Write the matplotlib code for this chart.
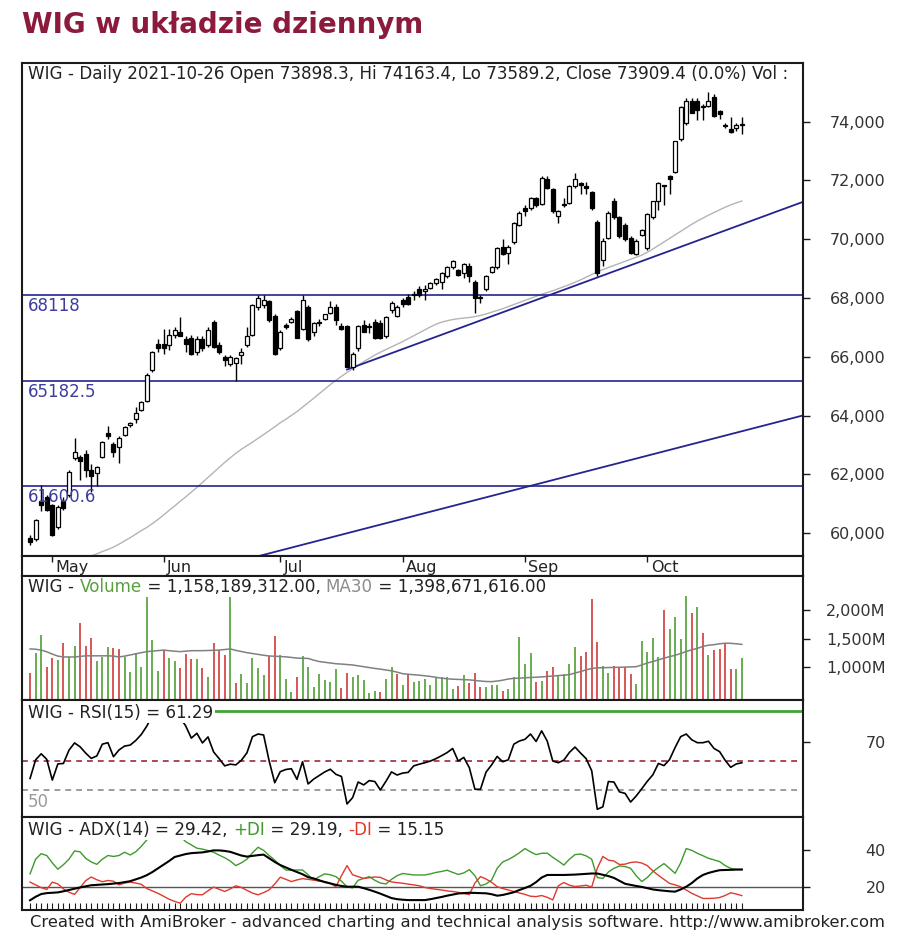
import numpy as np
import pandas as pd
import matplotlib
matplotlib.use('Agg')
import matplotlib.pyplot as plt
from matplotlib import transforms
from matplotlib.patches import Rectangle

plt.rcParams['font.family'] = ['DejaVu Sans']

# ---------------- data ----------------
holidays = ['2021-05-03', '2021-06-03']
dates = pd.bdate_range('2021-04-27', '2021-10-26')
dates = dates[~dates.isin(pd.to_datetime(holidays))]

opens = [59850,59800,61100,61250,60950,60200,61100,61300,62550,62600,
62700,62150,62050,62600,63400,63050,62950,63350,63700,63900,
64200,64500,65550,66450,66450,66400,66750,66850,66600,66650,
66150,66600,66400,67200,66400,66000,65750,65800,66050,66400,
66750,67700,67750,67900,67400,66300,67100,67200,67550,66950,
67700,66850,67200,67300,67500,67700,67050,67050,65650,66300,
67100,67050,67200,67150,66700,67600,67400,67950,68050,68100,
68300,68250,68350,68500,68550,68750,69050,68950,68850,69100,
68550,68050,68300,68900,69050,69750,69550,69900,70500,71050,
71050,71400,71200,72050,71700,70800,71200,71250,71800,71900,
71800,71600,70600,69300,70050,71300,70750,70500,70050,69500,
70150,69700,70750,71300,71850,72150,72300,73400,73950,74700,
74700,74550,74550,74850,74350,73900,73750,73800,73898.3]

highs = [59950,60500,61650,61300,61000,60950,61250,62150,63250,62650,
62850,62350,62300,63150,63650,63100,63300,63650,63800,64300,
64500,65450,66200,66600,66950,66950,67000,67350,66700,66750,
66700,66700,67000,67250,66500,66050,66050,66000,66300,67000,
67800,68100,68100,67950,67450,66900,67150,67350,67600,68100,
67750,67200,67300,67450,67900,67800,67150,67100,66150,67100,
67250,67150,67300,67250,67400,67900,67750,68000,68150,68250,
68400,68450,68550,68700,68900,69100,69300,69000,69200,69200,
68600,68100,68800,69100,69750,70000,69800,70600,70950,71150,
71450,71450,72150,72150,71750,71000,71400,71850,72250,71950,
71950,71650,70650,70050,70950,71400,70800,70550,70100,70000,
70350,70900,71300,71950,71850,72200,73350,74550,74800,74800,
74800,74600,75000,74950,74400,73950,74150,73950,74163.4]

lows = [59600,59750,60750,60750,59900,60150,60800,61250,62500,61800,
61900,61400,61600,62550,63200,62600,62400,63300,63600,63750,
64150,64450,65500,66150,66100,66250,66650,66700,66150,66050,
66050,66200,66350,66300,66100,65700,65700,65180,65750,66350,
66700,67600,67650,67200,66050,66250,66950,67150,66650,66900,
66550,66700,67050,67250,67450,67100,66900,65650,65550,66200,
66850,66800,66600,66600,66650,67500,67350,67700,67750,67950,
68050,67950,68300,68450,68300,68700,69000,68750,68700,68550,
67500,67850,68250,68850,69000,69450,69150,69850,70450,70800,
71000,71100,71150,71700,70900,70550,71100,71200,71750,71550,
71550,71000,68750,69100,70000,70700,70050,69950,69500,69450,
70100,69650,70700,71000,71150,71550,72250,73350,73900,74300,
74050,74050,74500,74150,74100,73800,73600,73700,73589.2]

closes = [59700,60450,60950,60800,59950,60900,60850,62100,62750,62450,
62150,61950,62250,63100,63300,62750,63250,63600,63750,64100,
64450,65400,66150,66300,66300,66750,66900,66700,66450,66100,
66600,66300,66900,66350,66150,65900,66000,65950,66150,66700,
67750,68000,67950,67250,66100,66850,67000,67300,66650,67950,
66600,67150,67150,67450,67700,67250,66950,65650,66100,67050,
66850,67000,66650,66650,67350,67850,67700,67800,67800,68150,
68100,68300,68500,68650,68850,69050,69250,68800,69150,68750,
68000,68000,68750,69050,69700,69500,69750,70550,70900,70950,
71400,71150,72100,71750,70950,70950,71150,71800,72050,71850,
71750,71050,68850,69950,70900,70750,70100,70000,69550,69950,
70300,70850,71300,71900,71800,72050,73350,74500,74700,74300,
74400,74500,74700,74200,74250,73850,73650,73890,73909.4]

price_ma = [np.nan]*10 + [59160,59230,59300,59380,59450,59530,59630,59740,59850,59970,
60090,60200,60330,60470,60620,60780,60930,61090,61240,61400,
61560,61730,61900,62070,62240,62410,62570,62720,62860,62980,
63100,63230,63360,63490,63620,63760,63880,64010,64140,64290,
64440,64590,64750,64900,65060,65200,65340,65470,65600,65720,
65840,65950,66060,66160,66250,66340,66430,66520,66620,66720,
66820,66920,67020,67110,67180,67230,67270,67300,67320,67340,
67370,67410,67460,67520,67580,67640,67710,67780,67850,67920,
67990,68060,68130,68190,68250,68320,68390,68460,68540,68620,
68710,68800,68890,68970,69040,69110,69180,69250,69320,69390,
69460,69560,69670,69790,69910,70030,70150,70270,70390,70510,
70620,70720,70820,70910,71000,71090,71170,71240,71300]

levels = [68118, 65182.5, 61600.6]
level_labels = ['68118', '65182.5', '61600.6']
trend_upper = ([57, 102], [65570, 68700])   # (bar index, value) anchors
trend_lower = ([41, 129], [59220, 63520])

volume_m = [906,1255,1564,1000,1157,1127,1419,1174,1372,1778,
1372,1517,1115,1174,1349,1342,1314,1174,918,1255,
1010,2244,1476,940,1302,1157,1115,983,1232,1140,
1140,983,826,1419,1302,1215,2244,721,883,721,
1157,983,866,1197,1546,1215,790,574,836,1197,
1000,651,883,778,748,965,633,906,836,866,
778,546,592,574,790,1000,883,691,883,748,
766,790,691,808,826,826,625,668,857,731,
906,651,651,691,691,592,616,836,1534,1058,
1244,748,766,940,1010,848,883,1058,1349,1197,
1273,2187,1447,1023,906,1023,1000,1000,883,709,
1464,1273,1506,1174,2000,1663,1873,1489,2244,1953,
2047,1604,1215,1302,1314,1407,965,965,1158]

volume_dir = ("duudduduud" "dduuudduuu" "uuuuduuddd" "ududdduduu" "uuudduuudu"
              "uuuuuudduu" "uuuduududu" "uuuuuuudud" "dduuuduuuu" "ududduuuud"
              "ddduuddddu" "uuuuduuuud" "ududddduu")

volume_ma30 = [1320,1315,1300,1270,1230,1195,1180,1180,1180,1190,
1200,1200,1200,1200,1200,1195,1180,1195,1215,1235,
1255,1273,1282,1292,1300,1290,1280,1273,1282,1290,
1290,1290,1293,1296,1300,1310,1320,1295,1275,1255,
1240,1225,1210,1197,1193,1188,1182,1172,1160,1157,
1155,1125,1100,1088,1075,1062,1056,1048,1040,1025,
1010,995,980,968,952,938,915,888,878,870,
862,852,840,825,810,800,792,788,785,780,
770,760,752,749,760,775,795,808,810,818,
822,826,832,840,848,855,862,872,900,925,
955,980,990,993,996,998,1000,1003,1006,1010,
1040,1075,1100,1130,1160,1185,1210,1240,1275,1305,
1330,1365,1385,1395,1410,1420,1418,1410,1399]

rsi = [54.8,62.5,65.0,62.7,54.1,60.8,61.0,66.5,69.5,67.9,
65.3,63.1,64.1,69.0,69.6,63.8,66.6,68.2,68.6,70.5,
73.0,76.5,81.0,83.0,82.0,84.0,83.0,80.0,76.5,71.5,
73.5,69.5,72.0,65.8,63.0,60.0,60.7,60.4,62.3,65.4,
72.1,73.2,72.8,62.0,53.0,57.6,58.5,58.8,54.4,61.7,
52.5,54.5,56.0,57.5,58.6,56.5,55.6,44.2,46.8,53.3,
52.1,53.9,53.5,50.0,53.6,57.5,56.2,57.0,57.3,60.0,
60.7,61.3,62.0,63.0,64.2,65.5,67.2,62.0,63.5,59.2,
50.3,50.3,57.4,60.4,63.9,61.7,62.5,69.0,70.3,71.0,
73.2,70.1,74.5,70.3,62.0,61.3,62.4,65.6,67.8,65.3,
63.0,58.0,42.0,43.0,53.5,53.3,49.2,48.6,45.0,47.5,
50.5,53.6,56.3,61.0,60.1,62.6,67.6,72.1,73.2,70.8,
69.6,69.6,70.2,67.2,65.9,62.3,59.4,60.8,61.29]
rsi_levels = [82.8, 62.0, 50.0]

adx = [12.6,14.5,16.0,16.5,16.7,16.9,17.5,18.2,18.9,19.6,
20.2,20.8,21.0,21.2,21.4,21.7,22.0,22.5,23.0,24.0,
25.0,26.3,28.0,30.0,32.0,34.0,36.2,37.0,37.8,38.3,
38.5,38.7,39.2,39.8,39.8,39.5,39.0,38.0,37.0,36.4,
36.8,37.2,37.5,35.5,33.5,31.8,30.5,29.2,28.0,26.8,
25.2,24.5,23.5,22.5,21.8,21.0,20.4,20.0,20.0,20.0,
19.2,18.3,17.3,16.2,15.0,13.8,13.2,12.9,12.7,12.7,
12.7,12.7,13.2,13.8,14.4,15.1,15.7,16.3,16.5,16.7,
16.6,16.5,16.4,15.9,15.1,15.5,16.2,17.0,18.2,19.3,
20.5,22.5,25.0,26.4,26.4,26.4,26.4,26.5,26.6,26.8,
27.0,27.2,27.2,26.5,25.8,24.8,23.2,21.6,21.0,20.4,
19.9,19.2,18.5,18.1,17.8,17.5,17.3,18.5,20.0,22.0,
24.5,26.4,27.5,28.3,29.0,29.1,29.2,29.3,29.42]

plus_di = [27.0,35.0,38.0,37.0,33.0,29.5,32.0,35.0,39.5,39.0,
35.5,33.5,32.2,35.0,37.0,36.5,37.0,38.8,37.3,39.0,
42.0,45.5,49.0,52.0,51.0,49.5,50.0,47.5,44.5,42.8,
41.0,40.5,39.7,38.8,37.2,35.8,34.0,31.5,33.0,35.0,
38.5,41.5,39.8,37.0,34.5,31.5,29.1,29.0,29.1,29.1,
26.5,23.6,25.5,27.0,26.5,25.5,23.0,20.0,19.3,23.5,
24.5,25.5,23.5,22.0,21.5,24.0,26.0,27.2,26.8,26.4,
26.4,26.4,27.0,27.8,28.3,29.0,27.8,26.7,27.5,29.3,
26.0,20.5,21.5,23.6,30.0,33.5,34.8,36.5,38.5,40.8,
39.0,37.5,38.2,38.3,36.0,34.0,31.8,35.0,37.5,37.8,
36.8,35.0,25.0,24.5,28.0,30.0,31.3,31.0,30.0,26.0,
22.8,25.0,28.2,30.5,32.6,30.0,27.3,33.0,40.8,39.8,
38.2,36.9,35.5,34.6,33.7,31.5,30.0,29.5,29.19]

minus_di = [22.5,21.0,19.5,18.5,22.5,21.5,18.8,17.0,15.8,19.5,
23.3,25.3,23.8,22.7,23.4,23.0,21.0,22.0,22.5,22.0,
21.3,19.0,17.7,16.4,14.8,13.2,12.0,11.0,14.3,16.2,
15.7,15.6,17.8,19.8,18.6,17.4,18.8,20.5,19.6,18.0,
16.5,15.6,16.8,18.3,21.5,25.2,24.0,22.8,23.7,24.4,
24.0,23.6,23.0,22.8,21.8,20.0,26.0,31.5,26.5,25.5,
24.5,24.9,25.3,25.1,23.7,22.6,22.2,21.9,21.4,21.0,
20.5,19.6,19.0,18.6,18.2,17.7,17.4,16.9,16.3,15.7,
22.0,25.5,24.2,22.4,20.0,19.0,18.2,17.4,16.6,15.8,
14.8,14.6,15.2,14.2,12.8,20.5,22.3,20.8,20.1,20.4,
20.8,19.8,30.0,36.5,34.5,34.0,32.1,32.3,33.2,33.5,
32.9,31.5,28.6,26.2,24.0,21.8,21.0,20.0,18.2,16.4,
15.0,13.6,13.6,13.7,14.1,15.2,16.7,16.0,15.15]
adx_level = 20

for arr in (opens, highs, lows, closes, price_ma, volume_m, volume_ma30, rsi, adx, plus_di, minus_di):
    assert len(arr) == len(dates), len(arr)
assert len(volume_dir) == len(dates)

# ---------------- figure ----------------
W, H = 900, 950
fig = plt.figure(figsize=(W / 100, H / 100), dpi=100)
fig.patch.set_facecolor('white')

def px_axes(x0, y0, x1, y1):
    return fig.add_axes([x0 / W, 1 - y1 / H, (x1 - x0) / W, (y1 - y0) / H])

n = len(dates)
idx = np.arange(n)
XL = (-1.45, 139.0)
TXT = '#222222'
NAVY = '#24248f'
GREEN = '#4f9e35'
RED = '#cf3b3b'
LAB = 11.5      # right-axis tick labels
HDR = 12.1      # panel headers
PAD = 54.5

L, R = 22, 803
ax = px_axes(L, 63, R, 556)
axd = px_axes(L, 556, R, 576)
axv = px_axes(L, 576, R, 700)
axr = px_axes(L, 700, R, 817)
axa = px_axes(L, 817, R, 910)

for a in (ax, axd, axv, axr, axa):
    a.set_xlim(*XL)
    for s in a.spines.values():
        s.set_linewidth(1.5)
        s.set_color('#1a1a1a')
        s.set_zorder(30)
    a.tick_params(axis='x', bottom=False, labelbottom=False)

def right_axis(a, ticks, labels):
    a.yaxis.tick_right()
    a.set_yticks(ticks)
    a.set_yticklabels(labels)
    a.tick_params(axis='y', direction='out', length=5, width=1, pad=PAD,
                  labelsize=LAB, labelcolor='#333333', color='#1a1a1a', left=False)
    for t in a.get_yticklabels():
        t.set_horizontalalignment('right')

# ---- price panel ----
o = np.array(opens); c = np.array(closes)
hi = np.array(highs); lo = np.array(lows)
up = c >= o
ax.vlines(idx, lo, hi, color='black', lw=1.0, zorder=3)
ax.bar(idx, np.abs(c - o), bottom=np.minimum(o, c), width=0.72,
       color=np.where(up, 'white', 'black'), edgecolor='black', linewidth=0.9, zorder=4)
ax.plot(idx, price_ma, color='#b4b4b4', lw=1.0, zorder=2)

for lv, lab in zip(levels, level_labels):
    ax.axhline(lv, color=NAVY, lw=1.2, zorder=2)
    tr = transforms.offset_copy(transforms.blended_transform_factory(ax.transAxes, ax.transData),
                                fig=fig, x=0, y=-2, units='dots')
    ax.text(6 / (R - L), lv, lab, transform=tr, color='#3d3d9e', fontsize=12,
            va='top', ha='left', zorder=5)

for (xs, ys), x_start in ((trend_upper, trend_upper[0][0]), (trend_lower, 30)):
    slope = (ys[1] - ys[0]) / (xs[1] - xs[0])
    xa = np.array([x_start, XL[1]])
    ax.plot(xa, ys[0] + slope * (xa - xs[0]), color=NAVY, lw=1.3, zorder=2)

ax.set_ylim(59228, 75996)
right_axis(ax, list(range(60000, 74001, 2000)), [f"{v:,}" for v in range(60000, 74001, 2000)])

# ---- date strip ----
axd.set_ylim(0, 1)
axd.set_yticks([])
month_first = [i for i in range(1, n) if dates[i].month != dates[i - 1].month]
axd.set_xticks(month_first)
axd.tick_params(axis='x', top=True, bottom=False, direction='in', length=4.5, width=1,
                labeltop=False, labelbottom=False, color='#1a1a1a')
bt = transforms.blended_transform_factory(axd.transData, axd.transAxes)
for i in month_first:
    axd.text(i + 0.6, 0.42, dates[i].strftime('%b'), transform=bt, fontsize=11.5,
             color=TXT, va='center', ha='left')

# ---- volume panel ----
vol = np.array(volume_m, dtype=float)
VBOT = 429
vcols = [GREEN if d == 'u' else RED for d in volume_dir]
axv.vlines(idx, VBOT, vol, colors=vcols, lw=1.2, zorder=2)
axv.plot(idx, volume_ma30, color='#808080', lw=1.1, zorder=3)
axv.set_ylim(VBOT, 2593)
right_axis(axv, [1000, 1500, 2000], ['1,000M', '1,500M', '2,000M'])

# ---- RSI panel ----
axr.plot(idx, rsi, color='black', lw=1.2, zorder=3)
axr.axhline(rsi_levels[0], color='#3fa535', lw=2.0, zorder=2)
axr.axhline(rsi_levels[1], color='#9b2a3a', lw=1.2, ls=(0, (3.5, 3)), zorder=2)
axr.axhline(rsi_levels[2], color='#8c8c8c', lw=1.2, ls=(0, (3.5, 3)), zorder=2)
axr.set_ylim(38.8, 87.3)
right_axis(axr, [70], ['70'])
tr50 = transforms.offset_copy(transforms.blended_transform_factory(axr.transAxes, axr.transData),
                              fig=fig, x=0, y=-3, units='dots')
axr.text(6 / (R - L), rsi_levels[2], '50', transform=tr50, color='#9a9a9a', fontsize=12,
         va='top', ha='left')

# ---- ADX panel ----
axa.axhline(adx_level, color='#555555', lw=1.0, zorder=2)
axa.plot(idx, plus_di, color='#3f9a2c', lw=1.0, zorder=3)
axa.plot(idx, minus_di, color='#e0392f', lw=1.0, zorder=3)
axa.plot(idx, adx, color='black', lw=1.5, zorder=4)
axa.set_ylim(7.3, 58)
right_axis(axa, [20, 40], ['20', '40'])
axa.set_xticks(idx)
axa.tick_params(axis='x', bottom=True, direction='in', length=5, width=0.8,
                labelbottom=False, color='#1a1a1a')

# ---- headers (multi-coloured) ----
renderer = fig.canvas.get_renderer()

def rainbow(a, x_px, y_px, pieces, bg=False, clip=False, size=HDR):
    bb = a.get_position()
    ax_x = (x_px / W - bb.x0) / bb.width
    ax_y = ((1 - y_px / H) - bb.y0) / bb.height
    trans = a.transAxes
    exts = []
    for s, col in pieces:
        t = a.text(ax_x, ax_y, s, color=col, fontsize=size, va='center', ha='left',
                   transform=trans, clip_on=clip, zorder=20)
        t.draw(renderer)
        ex = t.get_window_extent(renderer=renderer)
        exts.append(ex)
        trans = transforms.offset_copy(t.get_transform(), fig=fig, x=ex.width, units='dots')
    if bg:
        x1 = max(e.x1 for e in exts) + 2
        y0 = min(e.y0 for e in exts) - 1
        y1 = max(e.y1 for e in exts) + 1
        inv = a.transAxes.inverted()
        (_, ay0), (ax1, ay1) = inv.transform([(0, y0), (x1, y1)])
        a.add_patch(Rectangle((0, ay0), ax1, ay1 - ay0, transform=a.transAxes,
                              facecolor='white', edgecolor='none', zorder=15))

rainbow(ax, 28, 74, [("WIG - Daily 2021-10-26 Open 73898.3, Hi 74163.4, Lo 73589.2, "
                      "Close 73909.4 (0.0%) Vol :", TXT)], clip=True)
rainbow(axv, 28, 587, [("WIG - ", TXT), ("Volume", '#5aa040'), (" = 1,158,189,312.00, ", TXT),
                       ("MA30", '#8c8c8c'), (" = 1,398,671,616.00", TXT)], bg=True)
rainbow(axr, 28, 713, [("WIG - RSI(15) = 61.29", TXT)], bg=True)
rainbow(axa, 28, 830, [("WIG - ADX(14) = 29.42, ", TXT), ("+DI", '#3f9a2c'), (" = 29.19, ", TXT),
                       ("-DI", '#e0392f'), (" = 15.15", TXT)], bg=True)

# ---- title & footer ----
fig.text(22 / W, 1 - 33 / H, "WIG w układzie dziennym", fontsize=20, fontweight='bold',
         color='#8b1a3c', va='baseline', ha='left')
fig.text(30 / W, 1 - 922 / H,
         "Created with AmiBroker - advanced charting and technical analysis software. http://www.amibroker.com",
         fontsize=11.8, color=TXT, va='center', ha='left')

fig.savefig('out.png', dpi=100, facecolor='white')
